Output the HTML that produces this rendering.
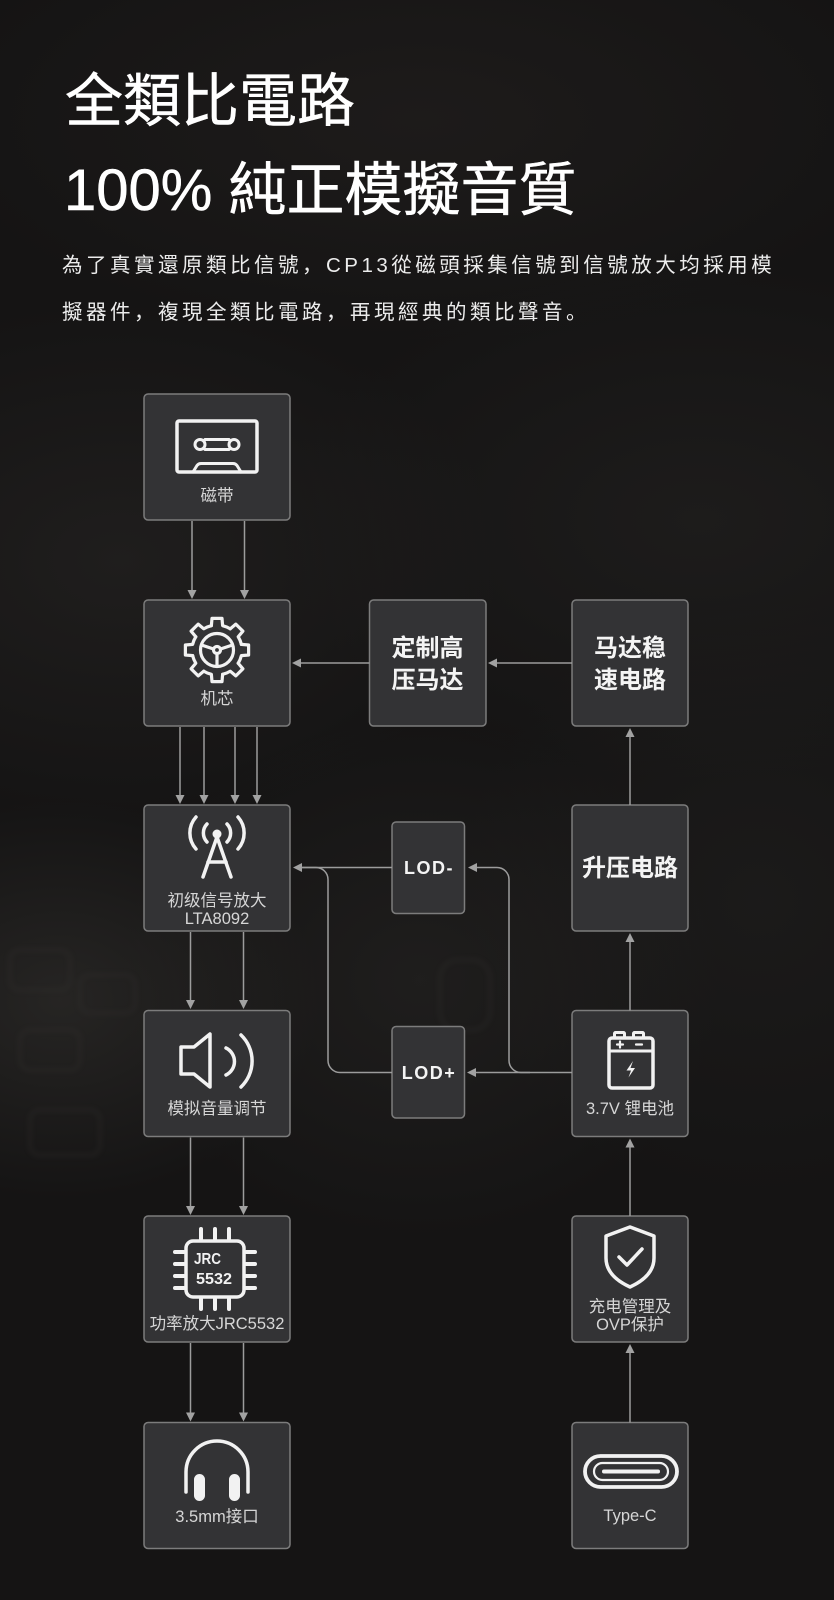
<!DOCTYPE html>
<html>
<head>
<meta charset="utf-8">
<style>
  html,body{margin:0;padding:0;}
  body{width:834px;height:1600px;overflow:hidden;position:relative;
    background:
      radial-gradient(ellipse 260px 200px at 60px 1000px, rgba(70,68,64,0.35), rgba(0,0,0,0) 100%),
      radial-gradient(ellipse 300px 260px at 420px 980px, rgba(60,58,55,0.25), rgba(0,0,0,0) 100%),
      radial-gradient(ellipse 380px 260px at 120px 560px, rgba(55,52,50,0.30), rgba(0,0,0,0) 100%),
      radial-gradient(ellipse 420px 260px at 700px 520px, rgba(50,48,46,0.28), rgba(0,0,0,0) 100%),
      radial-gradient(ellipse 500px 220px at 420px 120px, rgba(45,40,38,0.35), rgba(0,0,0,0) 100%),
      radial-gradient(ellipse 300px 300px at 760px 900px, rgba(50,48,46,0.22), rgba(0,0,0,0) 100%),
      #151414;}
  svg{position:absolute;left:0;top:0;}
  .t{font-family:"Liberation Sans","Noto Sans CJK SC",sans-serif;}
</style>
</head>
<body>
<svg width="834" height="1600" viewBox="0 0 834 1600" xmlns="http://www.w3.org/2000/svg">
  <defs>
    <filter id="blur" x="-20%" y="-20%" width="140%" height="140%"><feGaussianBlur stdDeviation="2"/></filter>
  </defs>
  <!-- faint PCB texture -->
  <g fill="none" stroke="#3a3836" stroke-width="6" opacity="0.15" filter="url(#blur)">
    <rect x="10" y="950" width="60" height="40" rx="10"/>
    <rect x="80" y="975" width="55" height="38" rx="10"/>
    <rect x="20" y="1030" width="60" height="40" rx="10"/>
    <rect x="30" y="1110" width="70" height="45" rx="10"/>
    <rect x="440" y="960" width="50" height="70" rx="18"/>
  </g>

  <!-- Header -->
  <text class="t" x="65" y="121" font-size="58" font-weight="normal" fill="#ffffff" stroke="#ffffff" stroke-width="0.5">全類比電路</text>
  <text class="t" x="64" y="210" font-size="58" font-weight="normal" fill="#ffffff" stroke="#ffffff" stroke-width="0.5">100% 純正模擬音質</text>
  <text class="t" x="62" y="272" font-size="20.5" fill="#ececec" style="letter-spacing:3.5px">為了真實還原類比信號，CP13從磁頭採集信號到信號放大均採用模</text>
  <text class="t" x="62" y="319" font-size="20.5" fill="#ececec" style="letter-spacing:3.5px">擬器件，複現全類比電路，再現經典的類比聲音。</text>

  <!-- Boxes -->
  <g fill="#333335" stroke="#7c7c7c" stroke-width="1.5">
    <rect x="144" y="394" width="146" height="126" rx="4"/>
    <rect x="144" y="600" width="146" height="126" rx="4"/>
    <rect x="144" y="805" width="146" height="126" rx="4"/>
    <rect x="144" y="1010.5" width="146" height="126" rx="4"/>
    <rect x="144" y="1216" width="146" height="126" rx="4"/>
    <rect x="144" y="1422.5" width="146" height="126" rx="4"/>

    <rect x="369.5" y="600" width="116.5" height="126" rx="4"/>
    <rect x="392" y="822" width="72.5" height="91.5" rx="4"/>
    <rect x="392" y="1026.5" width="72.5" height="91.5" rx="4"/>

    <rect x="572" y="600" width="116" height="126" rx="4"/>
    <rect x="572" y="805" width="116" height="126" rx="4"/>
    <rect x="572" y="1010.5" width="116" height="126" rx="4"/>
    <rect x="572" y="1216" width="116" height="126" rx="4"/>
    <rect x="572" y="1422.5" width="116" height="126" rx="4"/>
  </g>

  <!-- Connectors -->
  <g stroke="#9c9c9c" stroke-width="1.5" fill="none">
    <line x1="192" y1="521" x2="192" y2="591"/>
    <line x1="244.5" y1="521" x2="244.5" y2="591"/>
    <line x1="180" y1="727" x2="180" y2="796"/>
    <line x1="204" y1="727" x2="204" y2="796"/>
    <line x1="235" y1="727" x2="235" y2="796"/>
    <line x1="257" y1="727" x2="257" y2="796"/>
    <line x1="190.5" y1="932" x2="190.5" y2="1001"/>
    <line x1="243.5" y1="932" x2="243.5" y2="1001"/>
    <line x1="190.5" y1="1137.5" x2="190.5" y2="1207"/>
    <line x1="243.5" y1="1137.5" x2="243.5" y2="1207"/>
    <line x1="190.5" y1="1343" x2="190.5" y2="1413.5"/>
    <line x1="243.5" y1="1343" x2="243.5" y2="1413.5"/>
    <line x1="369.5" y1="663" x2="300" y2="663"/>
    <line x1="572" y1="663" x2="496" y2="663"/>
    <line x1="630" y1="805" x2="630" y2="736"/>
    <line x1="630" y1="1010.5" x2="630" y2="941"/>
    <line x1="630" y1="1216" x2="630" y2="1146.5"/>
    <line x1="630" y1="1422.5" x2="630" y2="1352"/>
    <line x1="392" y1="867.5" x2="301" y2="867.5"/>
    <path d="M392 1072.5 H340 A12 12 0 0 1 328 1060.5 V879.5 A12 12 0 0 0 316 867.5 H301"/>
    <line x1="572" y1="1072.5" x2="475" y2="1072.5"/>
    <path d="M530 1072.5 H521 A12 12 0 0 1 509 1060.5 V879.5 A12 12 0 0 0 497 867.5 H477"/>
  </g>

  <!-- Arrowheads -->
  <g fill="#a2a2a2">
    <polygon points="187.5,590 196.5,590 192,599"/>
    <polygon points="240,590 249,590 244.5,599"/>
    <polygon points="175.5,795 184.5,795 180,804"/>
    <polygon points="199.5,795 208.5,795 204,804"/>
    <polygon points="230.5,795 239.5,795 235,804"/>
    <polygon points="252.5,795 261.5,795 257,804"/>
    <polygon points="186,1000 195,1000 190.5,1009"/>
    <polygon points="239,1000 248,1000 243.5,1009"/>
    <polygon points="186,1206 195,1206 190.5,1215"/>
    <polygon points="239,1206 248,1206 243.5,1215"/>
    <polygon points="186,1412.5 195,1412.5 190.5,1421.5"/>
    <polygon points="239,1412.5 248,1412.5 243.5,1421.5"/>
    <polygon points="301,658.5 301,667.5 292,663"/>
    <polygon points="497,658.5 497,667.5 488,663"/>
    <polygon points="302,863 302,872 293,867.5"/>
    <polygon points="477,863 477,872 468,867.5"/>
    <polygon points="476,1068 476,1077 467,1072.5"/>
    <polygon points="625.5,737 634.5,737 630,728"/>
    <polygon points="625.5,942 634.5,942 630,933"/>
    <polygon points="625.5,1147.5 634.5,1147.5 630,1138.5"/>
    <polygon points="625.5,1353 634.5,1353 630,1344"/>
  </g>

  <!-- Icons -->
  <g stroke="#f2f2f2" fill="none" stroke-width="3.5" stroke-linecap="round" stroke-linejoin="round">
    <!-- cassette -->
    <rect x="177" y="421" width="80" height="51" rx="2"/>
    <circle cx="200" cy="444.5" r="5" stroke-width="3"/>
    <circle cx="234" cy="444.5" r="5" stroke-width="3"/>
    <line x1="205" y1="439.5" x2="229" y2="439.5" stroke-width="3"/>
    <line x1="205" y1="449.5" x2="229" y2="449.5" stroke-width="3"/>
    <path d="M193 472 L197 465.5 Q198.5 463.5 201 463.5 L233 463.5 Q235.5 463.5 237 465.5 L241 472" stroke-width="3"/>

    <!-- gear -->
    <g transform="translate(217 650)" stroke-width="3.2">
      <path d="M-5.62 -24.36 L-5 -31.61 L5 -31.61 L5.62 -24.36 A25 25 0 0 1 13.25 -21.2"/>
      <path transform="rotate(45)" d="M-5.62 -24.36 L-5 -31.61 L5 -31.61 L5.62 -24.36 A25 25 0 0 1 13.25 -21.2"/>
      <path transform="rotate(90)" d="M-5.62 -24.36 L-5 -31.61 L5 -31.61 L5.62 -24.36 A25 25 0 0 1 13.25 -21.2"/>
      <path transform="rotate(135)" d="M-5.62 -24.36 L-5 -31.61 L5 -31.61 L5.62 -24.36 A25 25 0 0 1 13.25 -21.2"/>
      <path transform="rotate(180)" d="M-5.62 -24.36 L-5 -31.61 L5 -31.61 L5.62 -24.36 A25 25 0 0 1 13.25 -21.2"/>
      <path transform="rotate(225)" d="M-5.62 -24.36 L-5 -31.61 L5 -31.61 L5.62 -24.36 A25 25 0 0 1 13.25 -21.2"/>
      <path transform="rotate(270)" d="M-5.62 -24.36 L-5 -31.61 L5 -31.61 L5.62 -24.36 A25 25 0 0 1 13.25 -21.2"/>
      <path transform="rotate(315)" d="M-5.62 -24.36 L-5 -31.61 L5 -31.61 L5.62 -24.36 A25 25 0 0 1 13.25 -21.2"/>
      <circle cx="0" cy="0" r="16.5"/>
      <circle cx="0" cy="0" r="3.5"/>
      <line x1="-3.5" y1="-1" x2="-15.5" y2="-5"/>
      <line x1="3.5" y1="-1" x2="15.5" y2="-5"/>
      <line x1="0" y1="3.5" x2="0" y2="16"/>
    </g>

    <!-- antenna -->
    <line x1="217" y1="837" x2="203" y2="877"/>
    <line x1="217" y1="837" x2="231" y2="877"/>
    <line x1="208" y1="862" x2="226" y2="862"/>
    <path d="M207 824 A13 13 0 0 0 207 842" />
    <path d="M227 824 A13 13 0 0 1 227 842" />
    <path d="M196 817 A24 24 0 0 0 196 849" />
    <path d="M238 817 A24 24 0 0 1 238 849" />

    <!-- speaker -->
    <path d="M181 1047 L194 1047 L210 1034 L210 1087 L194 1074 L181 1074 Z"/>
    <path d="M226 1048 A15 15 0 0 1 226 1075"/>
    <path d="M241 1035 A36 36 0 0 1 241 1087"/>

    <!-- chip -->
    <rect x="186" y="1241" width="58" height="56" rx="7"/>
    <g stroke-width="4">
      <line x1="201" y1="1229" x2="201" y2="1239"/>
      <line x1="215" y1="1229" x2="215" y2="1239"/>
      <line x1="229" y1="1229" x2="229" y2="1239"/>
      <line x1="201" y1="1299" x2="201" y2="1309"/>
      <line x1="215" y1="1299" x2="215" y2="1309"/>
      <line x1="229" y1="1299" x2="229" y2="1309"/>
      <line x1="175" y1="1252" x2="184" y2="1252"/>
      <line x1="175" y1="1264" x2="184" y2="1264"/>
      <line x1="175" y1="1276" x2="184" y2="1276"/>
      <line x1="175" y1="1288" x2="184" y2="1288"/>
      <line x1="246" y1="1252" x2="255" y2="1252"/>
      <line x1="246" y1="1264" x2="255" y2="1264"/>
      <line x1="246" y1="1276" x2="255" y2="1276"/>
      <line x1="246" y1="1288" x2="255" y2="1288"/>
    </g>

    <!-- headphones -->
    <path d="M186 1492 L186 1472 A31 31 0 0 1 248 1472 L248 1492"/>

    <!-- battery -->
    <rect x="609" y="1038" width="44" height="50" rx="3"/>
    <rect x="614.5" y="1032.5" width="10" height="5.5" rx="1" stroke-width="3"/>
    <rect x="633.5" y="1032.5" width="10" height="5.5" rx="1" stroke-width="3"/>
    <line x1="609" y1="1051" x2="653" y2="1051" stroke-width="3"/>
    <line x1="617" y1="1044.5" x2="623" y2="1044.5" stroke-width="2.2"/>
    <line x1="620" y1="1041.5" x2="620" y2="1047.5" stroke-width="2.2"/>
    <line x1="636" y1="1044.5" x2="642" y2="1044.5" stroke-width="2.2"/>

    <!-- shield -->
    <path d="M630 1227 L654 1236 L654 1258 Q654 1276 630 1287 Q606 1276 606 1258 L606 1236 Z"/>
    <path d="M619 1257 L627 1265 L642 1249"/>

    <!-- type-c -->
    <rect x="585" y="1456" width="92" height="31" rx="15.5" stroke-width="3.8"/>
    <rect x="594" y="1463" width="74" height="17" rx="8.5" stroke-width="2.2"/>
    <line x1="604" y1="1471.5" x2="658" y2="1471.5" stroke-width="4"/>
  </g>

  <!-- filled icon parts -->
  <g fill="#f2f2f2">
    <circle cx="217" cy="834" r="4.5"/>
    <rect x="194" y="1474" width="11" height="27" rx="5.5"/>
    <rect x="229" y="1474" width="11" height="27" rx="5.5"/>
    <path d="M633 1061 L626.5 1070.5 L631 1070.5 L628.5 1077.5 L635 1068 L630.5 1068 Z"/>
  </g>

  <!-- chip text -->
  <text class="t" x="194" y="1264" font-size="16" font-weight="bold" fill="#f2f2f2" textLength="27" lengthAdjust="spacingAndGlyphs">JRC</text>
  <text class="t" x="196" y="1284" font-size="16" font-weight="bold" fill="#f2f2f2" textLength="36" lengthAdjust="spacingAndGlyphs">5532</text>

  <!-- Labels -->
  <g class="t" font-size="16.5" fill="#d6d6d6" text-anchor="middle">
    <text x="217" y="501">磁带</text>
    <text x="217" y="704">机芯</text>
    <text x="217" y="906">初级信号放大</text>
    <text x="217" y="924">LTA8092</text>
    <text x="217" y="1114">模拟音量调节</text>
    <text x="217" y="1329">功率放大JRC5532</text>
    <text x="217" y="1522">3.5mm接口</text>
    <text x="630" y="1114">3.7V 锂电池</text>
    <text x="630" y="1312">充电管理及</text>
    <text x="630" y="1330">OVP保护</text>
    <text x="630" y="1521">Type-C</text>
  </g>
  <g class="t" font-size="24" font-weight="bold" fill="#f4f4f4" text-anchor="middle">
    <text x="427.5" y="656">定制高</text>
    <text x="427.5" y="688">压马达</text>
    <text x="630" y="656">马达稳</text>
    <text x="630" y="688">速电路</text>
    <text x="630" y="876">升压电路</text>
  </g>
  <g class="t" font-size="18" font-weight="bold" fill="#f4f4f4" text-anchor="middle" style="letter-spacing:1.5px">
    <text x="429" y="874">LOD-</text>
    <text x="429" y="1079">LOD+</text>
  </g>
</svg>
</body>
</html>
